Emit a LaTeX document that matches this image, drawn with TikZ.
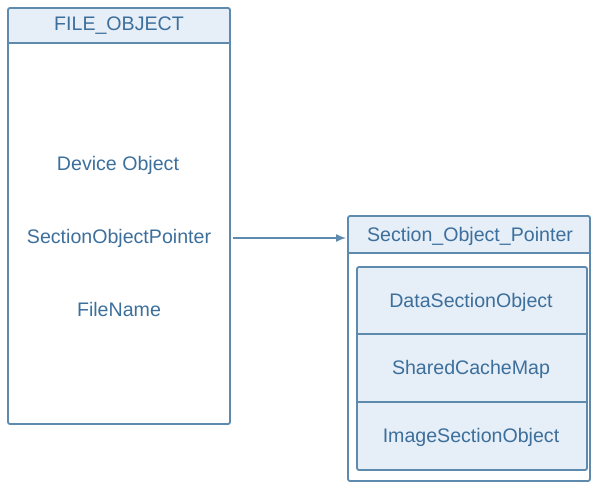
\documentclass[tikz,border=0pt]{standalone}
\usepackage{fontspec}
\setmainfont{Liberation Sans}
\usetikzlibrary{arrows.meta}
\definecolor{edge}{HTML}{5E8AAE}
\definecolor{ink}{HTML}{3C6F9C}
\definecolor{pale}{HTML}{E6EEF7}
\tikzset{
  frame/.style={draw=edge, line width=1.8pt, rounded corners=2pt},
  lbl/.style={text=ink, font=\fontsize{19.6}{22}\selectfont, inner sep=0pt},
  link/.style={draw=edge, line width=1.4pt, -{Latex[length=10pt,width=8pt]}}
}
\begin{document}
\begin{tikzpicture}[x=1pt,y=-1pt]
\useasboundingbox (0,0) rectangle (592,484);
% FILE_OBJECT box
\fill[pale] (8,8) rectangle (230,43);
\draw[frame] (8,8) rectangle (230,424);
\draw[draw=edge, line width=1.8pt] (8,43) -- (230,43);
\node[lbl] (fo) at (119,26) {FILE\_OBJECT};
\node[lbl] (dev) at (118,165) {Device Object};
\node[lbl] (sop) at (119,238) {SectionObjectPointer};
\node[lbl] (fn) at (119,309) {FileName};
\coordinate (fr) at (233,238);
% Section_Object_Pointer box
\fill[pale] (348,216) rectangle (590,253);
\draw[frame] (348,216) rectangle (590,481);
\draw[draw=edge, line width=1.8pt] (348,253) -- (590,253);
\node[lbl] (sph) at (470,236) {Section\_Object\_Pointer};
\coordinate (sl) at (346,238);
% inner field rows
\fill[pale, rounded corners=2pt] (357,267) rectangle (587,470);
\draw[frame] (357,267) rectangle (587,470);
\draw[draw=edge, line width=1.5pt] (357,334) -- (587,334);
\draw[draw=edge, line width=1.5pt] (357,402) -- (587,402);
\node[lbl] (dso) at (471,302) {DataSectionObject};
\node[lbl] (scm) at (471,369) {SharedCacheMap};
\node[lbl] (iso) at (471,437) {ImageSectionObject};
% pointer arrow
\draw[link] (fr) -- (sl);
\end{tikzpicture}
\end{document}
